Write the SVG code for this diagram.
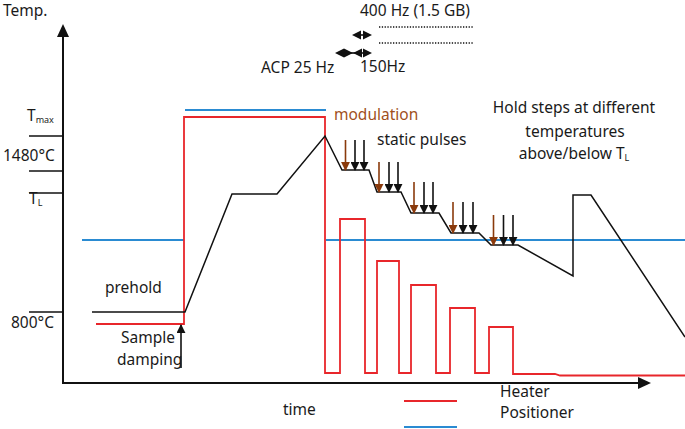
<svg xmlns="http://www.w3.org/2000/svg" width="685" height="429" viewBox="0 0 685 429">
<defs>
<style>
text{font-family:"Noto Sans","Open Sans","DejaVu Sans",sans-serif;font-size:15.5px;fill:#1a1a1a}
.sub{font-size:9px}
.ax{stroke:#111;stroke-width:2;fill:none}
.tick{stroke:#111;stroke-width:1.3;fill:none}
.curve{stroke:#111;stroke-width:1.5;fill:none;stroke-linejoin:miter}
.heat{stroke:#e8262b;stroke-width:1.8;fill:none}
.pos{stroke:#2a8bd2;stroke-width:2;fill:none}
.brown{stroke:#8a3a0c;stroke-width:1.6}
.blk{stroke:#111;stroke-width:1.6}
.dot{stroke:#111;stroke-width:1.6;stroke-dasharray:1.3 1.5}
</style>
<marker id="ab" viewBox="0 0 10 10" refX="9" refY="5" markerWidth="9" markerHeight="9" markerUnits="userSpaceOnUse" orient="auto"><path d="M0,0 L10,5 L0,10 z" fill="#111"/></marker>
<marker id="ar" viewBox="0 0 10 10" refX="9" refY="5" markerWidth="9" markerHeight="9" markerUnits="userSpaceOnUse" orient="auto"><path d="M0,0 L10,5 L0,10 z" fill="#8a3a0c"/></marker>
</defs>

<g id="axes">
<line class="ax" x1="63" y1="36" x2="63" y2="383"/>
<polygon points="63,24 57,37 69,37" fill="#111"/>
<line class="ax" x1="62" y1="383" x2="640" y2="383"/>
<polygon points="651,383 638,377 638,389" fill="#111"/>
<line class="tick" x1="29" y1="136" x2="63" y2="136"/>
<line class="tick" x1="29" y1="171" x2="63" y2="171"/>
<line class="tick" x1="29" y1="193" x2="63" y2="193"/>
<line class="tick" x1="29" y1="312" x2="63" y2="312"/>
<text x="3" y="16">Temp.</text>
<text x="27" y="121">T<tspan class="sub" dy="2">max</tspan></text>
<text x="3" y="161">1480°C</text>
<text x="29" y="204">T<tspan class="sub" dy="2">L</tspan></text>
<text x="11" y="328">800°C</text>
<text x="283" y="415">time</text>
</g>

<g id="positioner">
<line class="pos" x1="185" y1="110" x2="326" y2="110"/>
<line class="pos" x1="82" y1="240" x2="184" y2="240"/>
<line class="pos" x1="326" y1="240" x2="685" y2="240"/>
</g>

<g id="heater">
<polyline class="heat" points="96,324 184,324 184,117 325,117 325,373 340,373 340,219 365,219 365,373 377,373 377,261 399,261 399,373 411,373 411,285 436,285 436,373 450,373 450,308 475,308 475,373 489,373 489,327 513,327 513,374 555,374 560,375.5 685,375.5"/>
</g>

<g id="temperature">
<polyline class="curve" points="92,312 185,312 232,194 277,194 325,136 342,170 369,170 377,192 401,192 411,213 439,213 451,233 479,233 491,245 518,245 573,276 573,195 591,195 685,337"/>
</g>

<g id="connectors">
<line class="brown" x1="345.5" y1="140" x2="345.5" y2="170" marker-end="url(#ar)"/>
<line class="blk" x1="355" y1="140" x2="355" y2="170" marker-end="url(#ab)"/>
<line class="blk" x1="364" y1="140" x2="364" y2="170" marker-end="url(#ab)"/>
<line class="brown" x1="379" y1="162" x2="379" y2="192" marker-end="url(#ar)"/>
<line class="blk" x1="389" y1="162" x2="389" y2="192" marker-end="url(#ab)"/>
<line class="blk" x1="398" y1="162" x2="398" y2="192" marker-end="url(#ab)"/>
<line class="brown" x1="414" y1="182" x2="414" y2="213" marker-end="url(#ar)"/>
<line class="blk" x1="424" y1="182" x2="424" y2="213" marker-end="url(#ab)"/>
<line class="blk" x1="433" y1="182" x2="433" y2="213" marker-end="url(#ab)"/>
<line class="brown" x1="453" y1="202" x2="453" y2="233" marker-end="url(#ar)"/>
<line class="blk" x1="463" y1="202" x2="463" y2="233" marker-end="url(#ab)"/>
<line class="blk" x1="473" y1="202" x2="473" y2="233" marker-end="url(#ab)"/>
<line class="brown" x1="493.5" y1="215" x2="493.5" y2="245" marker-end="url(#ar)"/>
<line class="blk" x1="503.5" y1="215" x2="503.5" y2="245" marker-end="url(#ab)"/>
<line class="blk" x1="513" y1="215" x2="513" y2="245" marker-end="url(#ab)"/>
<line class="blk" x1="181" y1="368" x2="181" y2="325" marker-end="url(#ab)"/>
<polygon points="352,35 361,30.5 361,39.5" fill="#111"/><polygon points="372,35 363,30.5 363,39.5" fill="#111"/><line class="blk" x1="358" y1="35" x2="366" y2="35"/>
<polygon points="335,53 344,48.5 344,57.5" fill="#111"/><polygon points="353,53 344,48.5 344,57.5" fill="#111"/>
<polygon points="353,53 362,48.5 362,57.5" fill="#111"/><polygon points="372,53 363,48.5 363,57.5" fill="#111"/>
<line class="blk" x1="340" y1="53" x2="368" y2="53"/>
<line class="dot" x1="379" y1="27" x2="473" y2="27"/>
<line class="dot" x1="379" y1="43" x2="473" y2="43"/>
</g>

<g id="labels">
<text x="360" y="16">400  Hz (1.5 GB)</text>
<text x="261" y="73">ACP 25 Hz</text>
<text x="360" y="72">150Hz</text>
<text x="334" y="120" style="fill:#a0501c">modulation</text>
<text x="377" y="145">static pulses</text>
<text x="574" y="113" text-anchor="middle">Hold steps at different</text>
<text x="575" y="137" text-anchor="middle">temperatures</text>
<text x="574" y="159" text-anchor="middle">above/below T<tspan class="sub" dy="2">L</tspan></text>
<text x="105" y="293">prehold</text>
<text x="121" y="343">Sample</text>
<text x="117" y="365">damping</text>
</g>

<g id="legend">
<line class="heat" x1="404" y1="401" x2="457" y2="401"/>
<line class="pos" x1="404" y1="427" x2="457" y2="427"/>
<text x="500" y="397">Heater</text>
<text x="500" y="418">Positioner</text>
</g>
</svg>
